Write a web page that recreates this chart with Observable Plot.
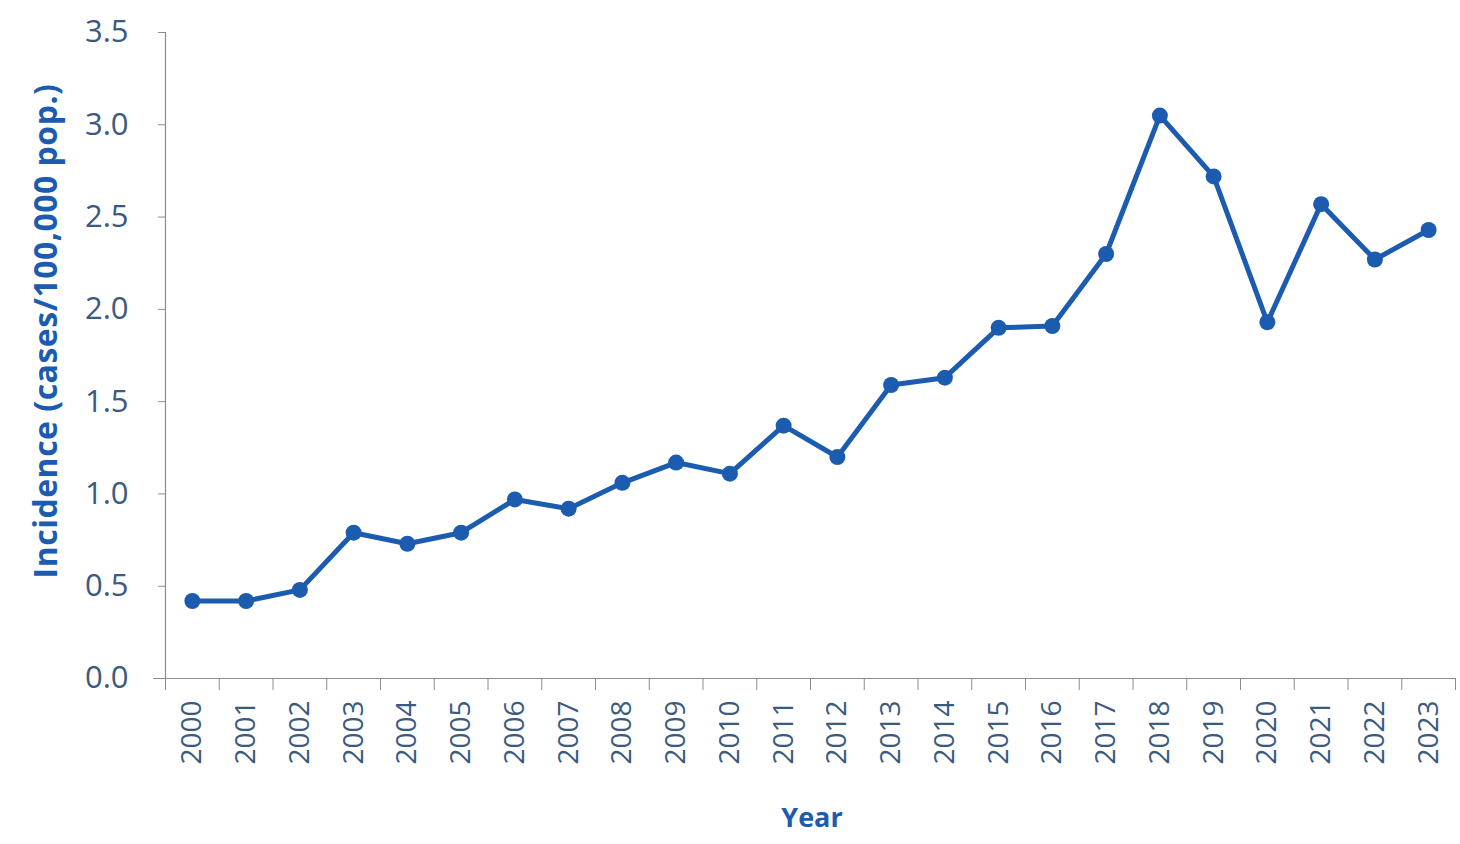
<!DOCTYPE html>
<html>
<head>
<meta charset="utf-8">
<script src="https://cdn.jsdelivr.net/npm/d3@7"></script>
<script src="https://cdn.jsdelivr.net/npm/@observablehq/plot@0.6"></script>
<style>
  html, body { margin: 0; padding: 0; background: #fff; }
  #chart { width: 1460px; height: 844px; }
</style>
</head>
<body>
<div id="chart"></div>
<script>
const years = [2000,2001,2002,2003,2004,2005,2006,2007,2008,2009,2010,2011,2012,2013,2014,2015,2016,2017,2018,2019,2020,2021,2022,2023];
const incidence = [0.42,0.42,0.48,0.79,0.73,0.79,0.97,0.92,1.06,1.17,1.11,1.37,1.20,1.59,1.63,1.90,1.91,2.30,3.05,2.72,1.93,2.57,2.27,2.43];
const yTicks = [0,0.5,1.0,1.5,2.0,2.5,3.0,3.5];
const yLabel = "Incidence (cases/100,000 pop.)";
const xLabel = "Year";

const data = years.map((y, i) => ({year: y, value: incidence[i]}));
const boundaries = years.map(y => y - 0.5).concat([years[years.length - 1] + 0.5]);

const lineColor = "#1c5cb0";
const tickColor = "#3a5a80";
const axisColor = "#8c8c8c";

const chart = Plot.plot({
  width: 1460,
  height: 844,
  marginLeft: 165,
  marginRight: 5,
  marginTop: 32,
  marginBottom: 166,
  style: {fontFamily: "'Open Sans', sans-serif", background: "#fff"},
  x: {domain: [years[0] - 0.5, years[years.length - 1] + 0.5]},
  y: {domain: [0, 3.5]},
  marks: [
    Plot.axisY(yTicks, {tickFormat: d => d.toFixed(1), tickSize: 7, tickPadding: 30, fontSize: 31, fill: tickColor, stroke: axisColor, label: null}),
    Plot.axisX(years, {tickSize: 0, tickPadding: 22, tickRotate: -90, fontSize: 28, fill: tickColor, tickFormat: d => String(d), label: null}),
    Plot.axisX(boundaries, {tickSize: 12, stroke: axisColor, tickFormat: () => "", label: null}),
    Plot.ruleX([years[0] - 0.5], {stroke: axisColor, strokeWidth: 1.2}),
    Plot.ruleY([0], {stroke: axisColor, strokeWidth: 1.2, insetLeft: -12}),
    Plot.line(data, {x: "year", y: "value", stroke: lineColor, strokeWidth: 5}),
    Plot.dot(data, {x: "year", y: "value", fill: lineColor, r: 8})
  ]
});

const svg = d3.select(chart);
svg.append("text")
  .attr("transform", "translate(48,331) rotate(-90)")
  .attr("text-anchor", "middle")
  .attr("dominant-baseline", "middle")
  .attr("font-family", "'Open Sans', sans-serif")
  .attr("font-weight", "bold")
  .attr("font-size", 32)
  .attr("letter-spacing", 0.5)
  .attr("fill", lineColor)
  .text(yLabel);
svg.append("text")
  .attr("x", 812)
  .attr("y", 820)
  .attr("text-anchor", "middle")
  .attr("dominant-baseline", "middle")
  .attr("font-family", "'Open Sans', sans-serif")
  .attr("font-weight", "bold")
  .attr("font-size", 27)
  .attr("fill", lineColor)
  .text(xLabel);

document.getElementById("chart").appendChild(chart);
</script>
</body>
</html>
